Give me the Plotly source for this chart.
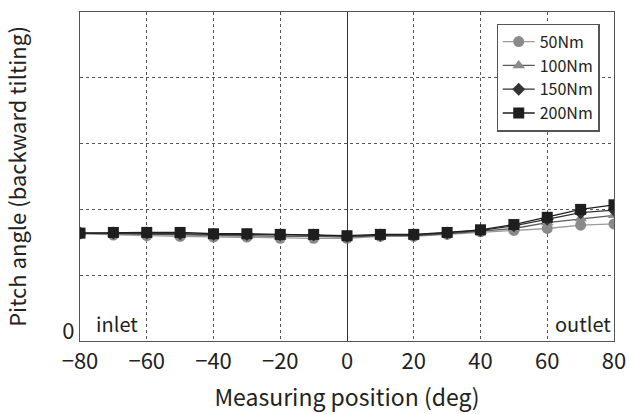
import plotly.graph_objects as go

positions = [-80, -70, -60, -50, -40, -30, -20, -10, 0, 10, 20, 30, 40, 50, 60, 70, 80]
pitch_50 = [1.63, 1.61, 1.60, 1.59, 1.58, 1.58, 1.56, 1.56, 1.56, 1.59, 1.59, 1.62, 1.66, 1.68, 1.71, 1.76, 1.78]
pitch_100 = [1.64, 1.63, 1.62, 1.61, 1.60, 1.60, 1.59, 1.59, 1.58, 1.60, 1.60, 1.63, 1.67, 1.71, 1.80, 1.86, 1.91]
pitch_150 = [1.64, 1.64, 1.64, 1.63, 1.62, 1.62, 1.61, 1.61, 1.59, 1.61, 1.61, 1.64, 1.68, 1.75, 1.85, 1.95, 1.99]
pitch_200 = [1.64, 1.65, 1.65, 1.65, 1.63, 1.63, 1.62, 1.62, 1.60, 1.62, 1.62, 1.65, 1.69, 1.77, 1.88, 2.00, 2.07]

series = [
    ("50Nm", pitch_50, "circle", "#8a8a8a", "#9a9a9a", 11),
    ("100Nm", pitch_100, "triangle-up", "#8a8a8a", "#5a5a5a", 11),
    ("150Nm", pitch_150, "diamond", "#333333", "#333333", 10),
    ("200Nm", pitch_200, "square", "#1e1e1e", "#1e1e1e", 11),
]

FONT = "Noto Sans CJK JP, Noto Sans, sans-serif"

fig = go.Figure()
for name, vals, sym, mcol, lcol, msize in series:
    fig.add_trace(go.Scatter(
        x=positions, y=vals, name=name, mode="lines+markers",
        line=dict(color=lcol, width=1.3),
        marker=dict(symbol=sym, color=mcol, size=msize, line=dict(width=0)),
    ))

fig.update_layout(
    width=630, height=414,
    margin=dict(l=80, r=16, t=12, b=73, autoexpand=False),
    paper_bgcolor="white", plot_bgcolor="white",
    font=dict(family=FONT, color="#222222"),
    showlegend=True,
    legend=dict(
        x=0.78, y=0.965, xanchor="left", yanchor="top",
        bgcolor="white", bordercolor="#555555", borderwidth=1.2,
        font=dict(size=16, family=FONT, color="#222222"),
        itemwidth=32, tracegroupgap=3,
    ),
    xaxis=dict(
        range=[-80, 80], tickvals=[-80, -60, -40, -20, 0, 20, 40, 60, 80],
        ticktext=["\u221280", "\u221260", "\u221240", "\u221220", "0", "20", "40", "60", "80"],
        showgrid=True, gridcolor="#555555", griddash="dot", gridwidth=1,
        zeroline=True, zerolinecolor="#333333", zerolinewidth=1.2,
        showline=True, linecolor="#555555", linewidth=1.2, mirror=True,
        ticks="", tickfont=dict(size=22), automargin=False,
        title=dict(text="Measuring position (deg)", font=dict(size=23), standoff=16),
    ),
    yaxis=dict(
        range=[0, 5], tickvals=[0, 1, 2, 3, 4, 5], ticktext=["0", "", "", "", "", ""],
        showgrid=True, gridcolor="#555555", griddash="dot", gridwidth=1,
        zeroline=False,
        showline=True, linecolor="#555555", linewidth=1.2, mirror=True,
        ticks="", tickfont=dict(size=22), automargin=False,
        ticklabelshift=-10,
        title=dict(text="Pitch angle (backward tilting)", font=dict(size=22), standoff=32),
    ),
)

fig.add_annotation(x=-80, y=0, xref="x", yref="y", text="inlet", showarrow=False,
                   xanchor="left", yanchor="bottom", xshift=14, yshift=1,
                   font=dict(size=20, family=FONT, color="#222222"))
fig.add_annotation(x=80, y=0, xref="x", yref="y", text="outlet", showarrow=False,
                   xanchor="right", yanchor="bottom", xshift=-1, yshift=1,
                   font=dict(size=20, family=FONT, color="#222222"))

fig.write_html("out.html")
